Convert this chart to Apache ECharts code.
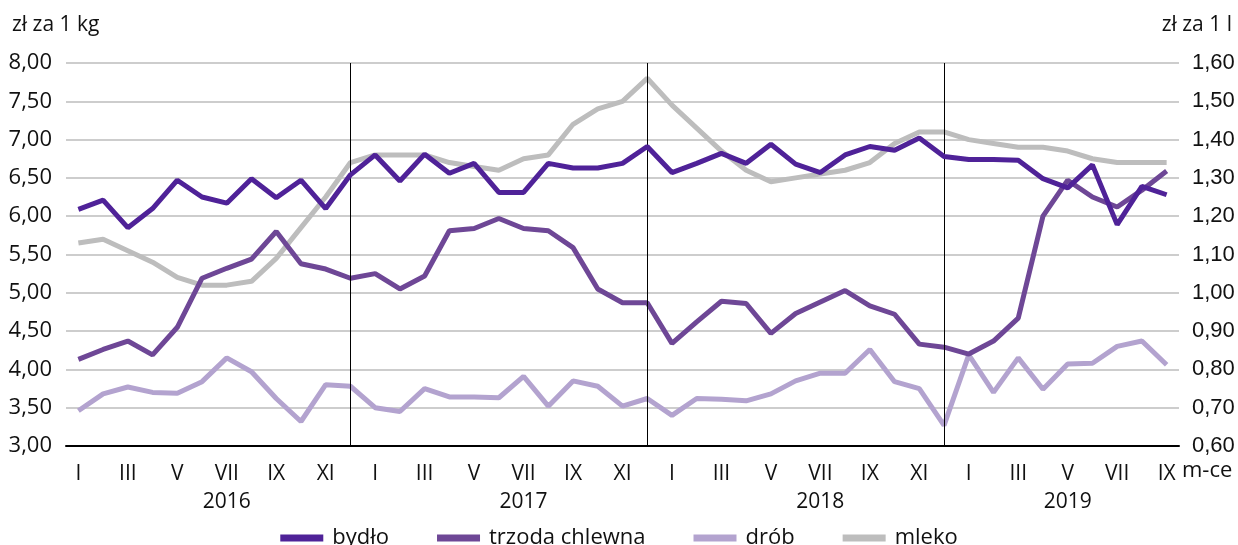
<!DOCTYPE html>
<html>
<head>
<meta charset="utf-8">
<script src="https://cdn.jsdelivr.net/npm/echarts@6/dist/echarts.min.js"></script>
<style>html,body{margin:0;padding:0;background:#fff}#c{width:1238px;height:545px}</style>
</head>
<body>
<div id="c"></div>
<script>
var months = ['I','II','III','IV','V','VI','VII','VIII','IX','X','XI','XII'];
var categories = [];
[2016, 2017, 2018, 2019].forEach(function (y) {
  months.forEach(function (m, k) { if (y < 2019 || k < 9) categories.push(y + '-' + m); });
});
var yearLabels = {6: '2016', 18: '2017', 30: '2018', 40: '2019'};
var yearBreaks = ['2016-XII', '2017-XII', '2018-XII'];

var bydlo = [6.09,6.21,5.85,6.10,6.47,6.25,6.17,6.49,6.24,6.47,6.10,6.54,
             6.80,6.46,6.81,6.56,6.69,6.31,6.31,6.69,6.63,6.63,6.69,6.91,
             6.57,6.69,6.82,6.69,6.94,6.68,6.57,6.80,6.91,6.86,7.02,6.78,
             6.74,6.74,6.73,6.49,6.37,6.67,5.89,6.39,6.28];
var trzoda = [4.13,4.26,4.37,4.19,4.55,5.19,5.32,5.44,5.80,5.38,5.31,5.19,
              5.25,5.05,5.22,5.81,5.84,5.97,5.84,5.81,5.59,5.05,4.87,4.87,
              4.34,4.62,4.89,4.86,4.47,4.73,4.88,5.03,4.83,4.72,4.33,4.29,
              4.20,4.37,4.67,6.00,6.47,6.25,6.12,6.34,6.59];
var drob = [3.46,3.68,3.77,3.70,3.69,3.84,4.15,3.97,3.62,3.32,3.80,3.78,
            3.50,3.45,3.75,3.64,3.64,3.63,3.91,3.52,3.85,3.78,3.52,3.62,
            3.40,3.62,3.61,3.59,3.68,3.85,3.95,3.95,4.26,3.84,3.75,3.27,
            4.19,3.70,4.15,3.74,4.07,4.08,4.30,4.37,4.06];
var mleko = [1.13,1.14,1.11,1.08,1.04,1.02,1.02,1.03,1.09,1.17,1.25,1.34,
             1.36,1.36,1.36,1.34,1.33,1.32,1.35,1.36,1.44,1.48,1.50,1.56,
             1.49,1.43,1.37,1.32,1.29,1.30,1.31,1.32,1.34,1.39,1.42,1.42,
             1.40,1.39,1.38,1.38,1.37,1.35,1.34,1.34,1.34];

var leftTicks = {min: 3, max: 8, interval: 0.5};
var rightTicks = {min: 0.6, max: 1.6, interval: 0.1};

var FONT = 'Open Sans';
function comma(v) { return v.toFixed(2).replace('.', ','); }

var chart = echarts.init(document.getElementById('c'));
chart.setOption({
  animation: false,
  backgroundColor: '#fff',
  grid: {left: 66, right: 59, top: 63, bottom: 99},
  legend: {
    bottom: -9, left: 'center', itemWidth: 43, itemHeight: 7, itemGap: 48, icon: 'rect',
    textStyle: {fontFamily: FONT, fontSize: 22, color: '#111', padding: [0, 0, 0, 4]},
    data: ['bydło', 'trzoda chlewna', 'drób', 'mleko']
  },
  graphic: [
    {type: 'text', left: 12, top: 15, style: {text: 'zł za 1 kg', fontFamily: FONT, fontSize: 21, fill: '#111'}},
    {type: 'text', right: 6, top: 15, style: {text: 'zł za 1 l', fontFamily: FONT, fontSize: 21, fill: '#111'}},
    {type: 'text', left: 1182, top: 460, style: {text: 'm-ce', fontFamily: FONT, fontSize: 22, fill: '#111'}}
  ],
  xAxis: [{
    type: 'category', data: categories, boundaryGap: true,
    axisLine: {lineStyle: {color: '#000', width: 2}},
    axisTick: {alignWithLabel: true, interval: 0, length: 5, lineStyle: {color: '#000', width: 2}},
    axisLabel: {interval: 1, margin: 18, fontFamily: FONT, fontSize: 21, color: '#111',
      formatter: function (v) { return v.split('-')[1]; }},
    splitLine: {show: false}
  }, {
    type: 'category', data: categories, boundaryGap: true, position: 'bottom', offset: 28,
    axisLine: {show: false}, axisTick: {show: false},
    axisLabel: {interval: 0, margin: 18, fontFamily: FONT, fontSize: 21, color: '#111',
      formatter: function (v, i) { return yearLabels[i] || ''; }}
  }],
  yAxis: [{
    type: 'value', min: leftTicks.min, max: leftTicks.max, interval: leftTicks.interval,
    axisLine: {show: false}, axisTick: {show: false},
    axisLabel: {margin: 14, fontFamily: FONT, fontSize: 22, color: '#111', formatter: comma},
    splitLine: {lineStyle: {color: '#bdbdbd', width: 1.5}}
  }, {
    type: 'value', min: rightTicks.min, max: rightTicks.max, interval: rightTicks.interval,
    axisLine: {show: false}, axisTick: {show: false},
    axisLabel: {margin: 13, fontFamily: 'Liberation Sans', fontSize: 22, color: '#111', formatter: comma},
    splitLine: {show: false}
  }],
  series: [
    {name: 'bydło', type: 'line', data: bydlo, yAxisIndex: 0, symbol: 'none', z: 5,
      itemStyle: {color: '#4f2298'}, lineStyle: {color: '#4f2298', width: 5},
      markLine: {silent: true, symbol: 'none', label: {show: false}, animation: false,
        lineStyle: {color: '#000', width: 1, type: 'solid'},
        data: yearBreaks.map(function (c) { return {xAxis: c}; })}},
    {name: 'trzoda chlewna', type: 'line', data: trzoda, yAxisIndex: 0, symbol: 'none', z: 4,
      itemStyle: {color: '#6e4796'}, lineStyle: {color: '#6e4796', width: 5}},
    {name: 'drób', type: 'line', data: drob, yAxisIndex: 0, symbol: 'none', z: 3,
      itemStyle: {color: '#b3a3cf'}, lineStyle: {color: '#b3a3cf', width: 5}},
    {name: 'mleko', type: 'line', data: mleko, yAxisIndex: 1, symbol: 'none', z: 2,
      itemStyle: {color: '#bdbdbd'}, lineStyle: {color: '#bdbdbd', width: 5}}
  ]
});
</script>
</body>
</html>
